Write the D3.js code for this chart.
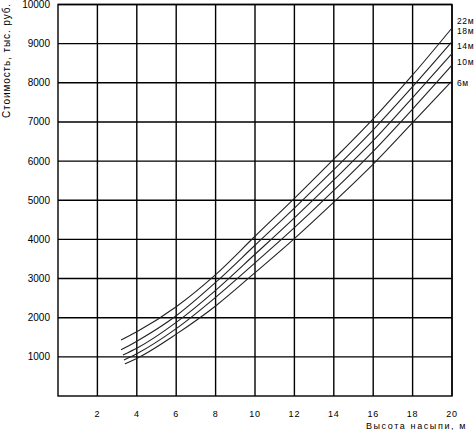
<!DOCTYPE html>
<html><head><meta charset="utf-8">
<script src="https://cdn.jsdelivr.net/npm/d3@7"></script>
<style>
html,body{margin:0;padding:0;background:#fff;}
svg{display:block;}
text{font-family:"Liberation Sans",Arial,sans-serif;fill:#000;}
</style></head>
<body>
<svg id="chart" width="476" height="430"></svg>
<script>
// ---- data ----
const xTicks = [2,4,6,8,10,12,14,16,18,20];
const yTicks = [1000,2000,3000,4000,5000,6000,7000,8000,9000,10000];
const seriesNames = ["22м","18м","14м","10м","6м"];
const heights = [
  [3.2,4,6,8,10,12,14,16,18,20],
  [3.2,4,6,8,10,12,14,16,18,20],
  [3.3,4,6,8,10,12,14,16,18,20],
  [3.35,4,6,8,10,12,14,16,18,20],
  [3.4,4,6,8,10,12,14,16,18,20]
];
const cost22 = [1430,1640,2280,3100,4080,5050,6050,7080,8200,9400];
const cost18 = [1180,1400,2050,2900,3850,4800,5780,6800,7900,9050];
const cost14 = [1050,1220,1880,2700,3620,4550,5520,6520,7620,8750];
const cost10 = [920,1080,1720,2520,3400,4300,5250,6250,7330,8450];
const cost6  = [820,960,1580,2300,3150,4020,4950,5920,6980,8050];
const seriesValues = [cost22,cost18,cost14,cost10,cost6];
const labelValues = [9590,9320,8940,8530,8000];
const xTitle = "Высота насыпи, м";
const yTitle = "Стоимость, тыс. руб.";

// ---- chart ----
const svg = d3.select("#chart");
const x = d3.scaleLinear().domain([0,20]).range([58,452]);
const y = d3.scaleLinear().domain([0,10000]).range([396,4.5]);

const grid = svg.append("g").attr("stroke","#000").attr("stroke-width",1.4).attr("fill","none");
grid.selectAll("line.v").data(xTicks).join("line").attr("class","v")
  .attr("x1",d=>x(d)).attr("x2",d=>x(d)).attr("y1",y(0)).attr("y2",y(10000));
grid.selectAll("line.h").data(yTicks).join("line").attr("class","h")
  .attr("x1",x(0)).attr("x2",x(20)).attr("y1",d=>y(d)).attr("y2",d=>y(d));
grid.append("rect").attr("x",x(0)).attr("y",y(10000))
  .attr("width",x(20)-x(0)).attr("height",y(0)-y(10000));

// tick labels
svg.append("g").selectAll("text").data(xTicks).join("text")
  .attr("x",d=>x(d)).attr("y",417).attr("text-anchor","middle")
  .attr("font-size",9).attr("letter-spacing",0.8).text(d=>d);
svg.append("g").selectAll("text").data(yTicks).join("text")
  .attr("x",50).attr("y",d=>y(d)).attr("dy","0.35em").attr("text-anchor","end")
  .attr("font-size",10).text(d=>d);

// curves
const line = d3.line().x(d=>x(d[0])).y(d=>y(d[1])).curve(d3.curveMonotoneX);
svg.append("g").selectAll("path").data(seriesValues).join("path")
  .attr("d",(vals,i)=>line(vals.map((v,j)=>[heights[i][j],v])))
  .attr("fill","none").attr("stroke","#222").attr("stroke-width",1.1);

// series labels
svg.append("g").selectAll("text").data(seriesNames).join("text")
  .attr("x",457).attr("y",(d,i)=>y(labelValues[i])).attr("dy","0.35em")
  .attr("font-size",8.5).attr("letter-spacing",0.6).text(d=>d);

// axis titles
svg.append("text").attr("x",467).attr("y",428.5).attr("text-anchor","end")
  .attr("font-size",9).attr("letter-spacing",1.6).text(xTitle);
svg.append("text").attr("transform","translate(10,118) rotate(-90)")
  .attr("font-size",10).attr("letter-spacing",0.9).text(yTitle);
</script>
</body></html>
